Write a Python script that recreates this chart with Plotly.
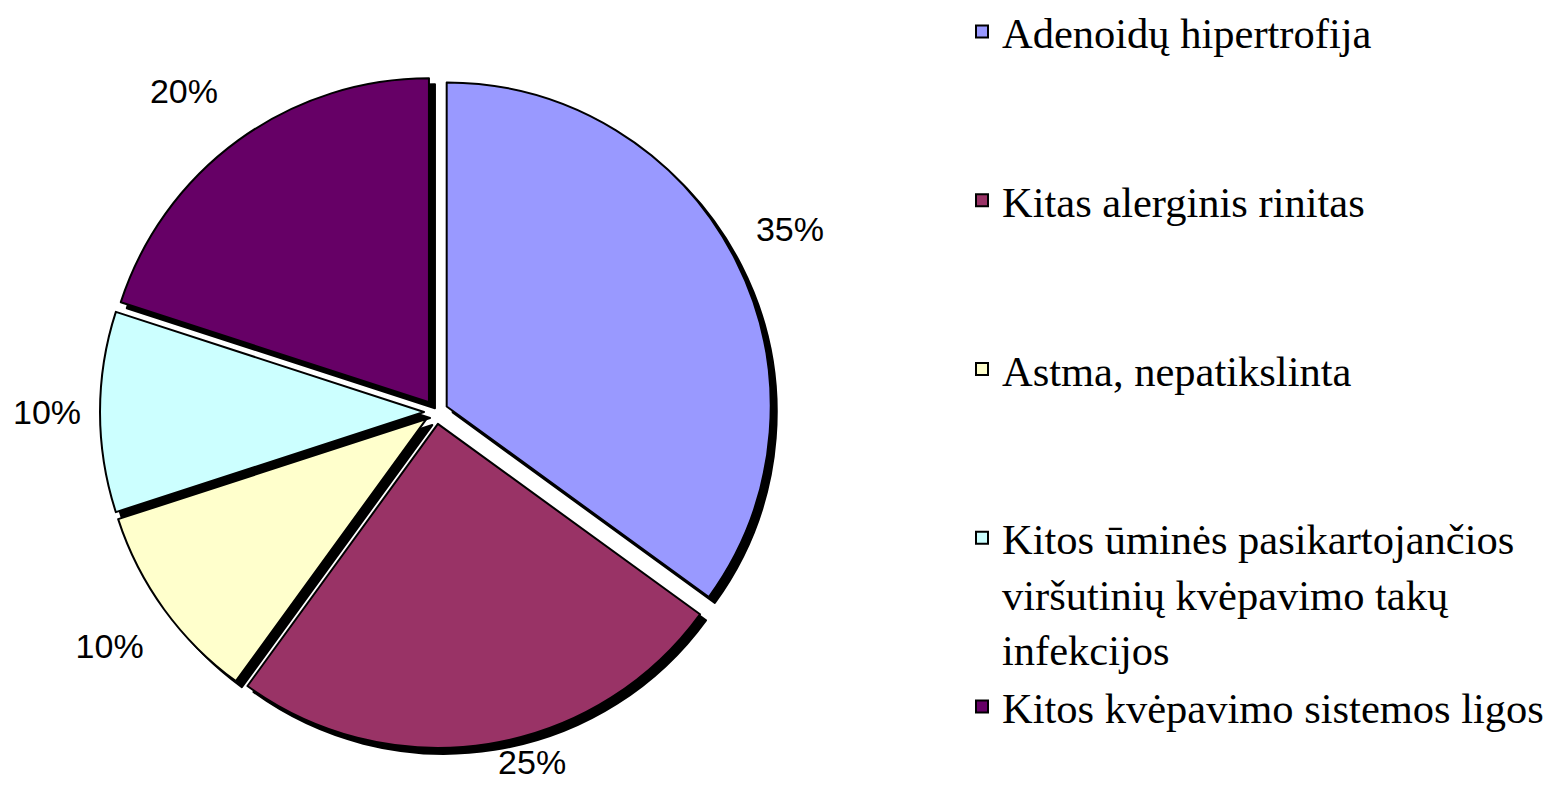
import plotly.graph_objects as go

categories = [
    "Adenoidų hipertrofija",
    "Kitas alerginis rinitas",
    "Astma, nepatikslinta",
    "Kitos ūminės pasikartojančios<br>viršutinių kvėpavimo takų<br>infekcijos",
    "Kitos kvėpavimo sistemos ligos",
]
values = [35, 25, 10, 10, 20]
colors = ["#9999FF", "#993366", "#FFFFCC", "#CCFFFF", "#660066"]

# label templates: blank lines / spaces only nudge the outside labels
label_templates = [
    "%{percent:.0%}<br>&nbsp;",
    "%{percent:.0%}",
    "&nbsp;<br>%{percent:.0%}",
    "%{percent:.0%}&nbsp;",
    "%{percent:.0%}<br>&nbsp;",
]

W, H = 1552, 802
cx, cy = 428, 404          # pie domain centre in pixels (from top-left)
pull = 0.037
side = 672                 # domain side in pixels
shadow = 6

def dom(cxp, cyp):
    x0 = (cxp - side / 2) / W
    x1 = (cxp + side / 2) / W
    yb = H - cyp
    y0 = (yb - side / 2) / H
    y1 = (yb + side / 2) / H
    return dict(x=[x0, x1], y=[y0, y1])

# pad single-line legend labels so that every entry occupies three lines
def pad(label):
    n = label.count("<br>") + 1
    return label + "<br> " * (3 - n) if n < 3 else label

legend_labels = [pad(c) for c in categories[:-1]] + [categories[-1]]

fig = go.Figure()

# shadow
fig.add_trace(go.Pie(
    labels=legend_labels, values=values, sort=False, direction="clockwise",
    rotation=0, pull=[pull] * len(values), automargin=False,
    marker=dict(colors=["#000000"] * len(values), line=dict(color="#000000", width=2)),
    textinfo="none", hoverinfo="skip", showlegend=False,
    domain=dom(cx + shadow, cy + shadow),
))

fig.add_trace(go.Pie(
    labels=legend_labels, values=values, sort=False, direction="clockwise",
    rotation=0, pull=[pull] * len(values), automargin=False,
    marker=dict(colors=colors, line=dict(color="#000000", width=2)),
    textinfo="percent", textposition="outside",
    texttemplate=label_templates,
    outsidetextfont=dict(family="Arial, Liberation Sans, sans-serif", size=34, color="#000000"),
    domain=dom(cx, cy),
))

fig.update_layout(
    width=W, height=H,
    margin=dict(l=0, r=0, t=0, b=0, autoexpand=False),
    paper_bgcolor="white", plot_bgcolor="white",
    showlegend=True,
    legend=dict(
        x=954 / W, y=0.5493, xanchor="left", yanchor="middle",
        font=dict(family="Liberation Serif, Times New Roman, serif", size=42.5, color="#000000"),
        valign="top", traceorder="normal",
        bgcolor="rgba(0,0,0,0)",
    ),
)

fig.write_html("out.html")
